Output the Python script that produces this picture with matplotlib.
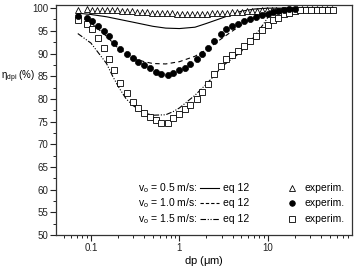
import matplotlib
matplotlib.use("Agg")
import matplotlib.pyplot as plt
from matplotlib.ticker import FixedLocator, NullFormatter, FixedFormatter, MultipleLocator
from matplotlib.lines import Line2D

plt.rcParams['font.family'] = ['Liberation Sans', 'DejaVu Sans']
plt.rcParams['mathtext.fontset'] = 'custom'
plt.rcParams['mathtext.rm'] = 'Liberation Sans'
plt.rcParams['mathtext.it'] = 'Liberation Sans:italic'

# ---- experimental data ----
x_exp = [0.0713, 0.0912, 0.102, 0.121, 0.142, 0.162, 0.183, 0.214, 0.253, 0.296,
         0.342, 0.399, 0.464, 0.538, 0.623, 0.736, 0.855, 1.0, 1.15, 1.33,
         1.56, 1.82, 2.12, 2.47, 2.92, 3.40, 3.95, 4.62, 5.40, 6.26,
         7.26, 8.49, 9.93, 11.5, 13.1, 15.2, 17.5, 20.2, 23.3, 26.9,
         31.0, 35.8, 41.3, 47.6, 54.2]

y_v10 = [98.3, 97.9, 97.2, 96.1, 95.0, 93.8, 92.4, 91.1, 89.8, 89.1,
         88.2, 87.4, 86.9, 86.0, 85.5, 85.2, 85.7, 86.3, 86.9, 87.6,
         88.7, 89.8, 91.3, 92.8, 94.4, 95.4, 96.0, 96.6, 97.1, 97.6,
         97.95, 98.5, 98.8, 99.2, 99.4, 99.6, 99.8, 99.9]

y_v15 = [97.4, 96.6, 95.4, 93.5, 91.3, 88.8, 86.3, 83.6, 81.2, 79.3,
         77.9, 76.9, 76.1, 75.3, 74.7, 74.7, 75.7, 76.7, 77.7, 78.6,
         80.0, 81.5, 83.3, 85.5, 87.2, 88.7, 89.6, 90.6, 91.6, 92.8,
         93.8, 95.2, 96.3, 97.4, 97.9, 98.6, 99.0, 99.3, 99.5, 99.6,
         99.7, 99.7, 99.7, 99.7, 99.7]

x_v05 = [0.0713, 0.0912, 0.102, 0.116, 0.132, 0.150, 0.171, 0.195, 0.222, 0.253,
         0.288, 0.328, 0.374, 0.426, 0.485, 0.552, 0.629, 0.716, 0.816, 0.929,
         1.06, 1.21, 1.37, 1.56, 1.78, 2.03, 2.31, 2.63, 3.00, 3.41,
         3.89, 4.43, 5.04, 5.74, 6.54, 7.45, 8.49, 9.67, 11.0, 12.5,
         14.3, 16.3, 18.5, 21.1, 24.0, 27.4, 31.2, 35.5, 40.4, 46.1, 52.5]
y_v05 = [99.7, 99.8, 99.7, 99.7, 99.6, 99.6, 99.5, 99.5, 99.4, 99.3,
         99.3, 99.2, 99.1, 99.1, 99.0, 99.0, 98.9, 98.9, 98.9, 98.8,
         98.8, 98.8, 98.8, 98.8, 98.8, 98.8, 98.9, 98.9, 99.0, 99.0,
         99.1, 99.1, 99.2, 99.3, 99.3, 99.4, 99.5, 99.5, 99.6, 99.6,
         99.7, 99.7, 99.7, 99.8, 99.8, 99.8, 99.8, 99.8, 99.8, 99.8, 99.8]

# ---- model curves (eq 12) ----
xm_05 = [0.071, 0.1, 0.15, 0.2, 0.3, 0.5, 0.7, 1.0, 1.5, 2.0, 3.0, 4.0, 5.0, 7.0, 10.0, 54.0]
ym_05 = [98.9, 98.6, 98.1, 97.6, 96.9, 96.0, 95.6, 95.5, 95.8, 96.6, 97.8, 98.7, 99.3, 99.8, 100.0, 100.0]

xm_10 = [0.071, 0.1, 0.15, 0.2, 0.3, 0.4, 0.5, 0.7, 1.0, 1.5, 2.0, 3.0, 4.0, 6.0, 10.0, 15.0, 54.0]
ym_10 = [98.5, 96.8, 93.8, 91.3, 89.0, 88.2, 87.8, 87.7, 88.2, 89.4, 90.8, 93.3, 95.0, 97.3, 99.3, 99.9, 100.0]

xm_15 = [0.071, 0.1, 0.15, 0.177, 0.21, 0.25, 0.3, 0.4, 0.5, 0.7, 0.85, 1.0, 1.5, 2.0, 2.5, 3.0, 5.0, 7.0, 9.0, 11.0, 15.0, 54.0]
ym_15 = [94.4, 92.3, 87.8, 84.9, 82.3, 80.0, 78.5, 77.0, 76.4, 76.5, 77.2, 78.0, 80.8, 83.2, 85.2, 87.1, 90.4, 93.7, 96.6, 99.2, 100.0, 100.0]

x_ticks = [0.1, 1, 10]
x_ticklabels = ["0.1", "1", "10"]
y_ticks = [50, 55, 60, 65, 70, 75, 80, 85, 90, 95, 100]

dashdotdot = (0, (5, 1.5, 1, 1.5, 1, 1.5))

fig = plt.figure(figsize=(3.54, 2.70), dpi=100)
ax = fig.add_axes([0.158, 0.1296, 0.836, 0.852])

lw = 0.8
ax.plot(xm_05, ym_05, color='black', lw=lw, ls='-')
ax.plot(xm_10, ym_10, color='black', lw=lw, ls=(0, (4, 3)))
ax.plot(xm_15, ym_15, color='black', lw=lw, ls=dashdotdot)

ax.plot(x_v05, y_v05, ls='none', marker='^', ms=4.0, mfc='white', mec='black', mew=0.6)
ax.plot(x_exp, y_v15, ls='none', marker='s', ms=3.8, mfc='white', mec='black', mew=0.6)
ax.plot(x_exp[:len(y_v10)], y_v10, ls='none', marker='o', ms=4.4, mfc='black', mec='black', mew=0.5)

ax.set_xscale('log')
ax.set_xlim(0.0402, 89)
ax.set_ylim(50, 100.7)

ax.xaxis.set_major_locator(FixedLocator(x_ticks))
ax.xaxis.set_major_formatter(FixedFormatter(x_ticklabels))
minors = [m * 10.0 ** e for e in (-2, -1, 0, 1) for m in range(2, 10)]
ax.xaxis.set_minor_locator(FixedLocator(minors))
ax.xaxis.set_minor_formatter(NullFormatter())
ax.yaxis.set_major_locator(FixedLocator(y_ticks))
ax.yaxis.set_minor_locator(MultipleLocator(2.5))

ax.tick_params(which='both', direction='out', top=False, right=False, labelsize=7, colors='#222222', pad=1.5)
ax.tick_params(which='major', length=4, width=0.8)
ax.tick_params(which='minor', length=2.5, width=0.7)
for s in ax.spines.values():
    s.set_linewidth(0.9)
    s.set_color('#333333')

ax.set_xlabel(r"dp ($\mathrm{\mu}$m)", fontsize=8)
ax.xaxis.set_label_coords(0.5, -0.115)
ax.xaxis.label.set_va('center')
ax.set_ylabel(r"$\mathrm{\eta_{dpi}}$ (%)", fontsize=7, rotation=0, ha='right', va='center')
ax.yaxis.set_label_coords(-0.07, 0.687)

# legend block
legend_labels = [r"v$_\mathrm{o}$ = 0.5 m/s:", r"v$_\mathrm{o}$ = 1.0 m/s:", r"v$_\mathrm{o}$ = 1.5 m/s:"]
legend_styles = ['-', (0, (3, 1.8)), dashdotdot]
legend_markers = [('^', 'white'), ('o', 'black'), ('s', 'white')]
rows = [0.204, 0.139, 0.070]
for lab, ls, (mk, fc), yy in zip(legend_labels, legend_styles, legend_markers, rows):
    ax.text(0.478, yy, lab, transform=ax.transAxes, fontsize=7.5, ha='right', va='center')
    ax.add_line(Line2D([0.487, 0.552], [yy, yy], transform=ax.transAxes, color='black', lw=lw, ls=ls))
    ax.text(0.563, yy, "eq 12", transform=ax.transAxes, fontsize=7.5, ha='left', va='center')
    ax.add_line(Line2D([0.796], [yy], transform=ax.transAxes, ls='none', marker=mk, ms=4.0,
                       mfc=fc, mec='black', mew=0.6))
    ax.text(0.841, yy, "experim.", transform=ax.transAxes, fontsize=7.5, ha='left', va='center')

fig.savefig("out.png", dpi=100)
